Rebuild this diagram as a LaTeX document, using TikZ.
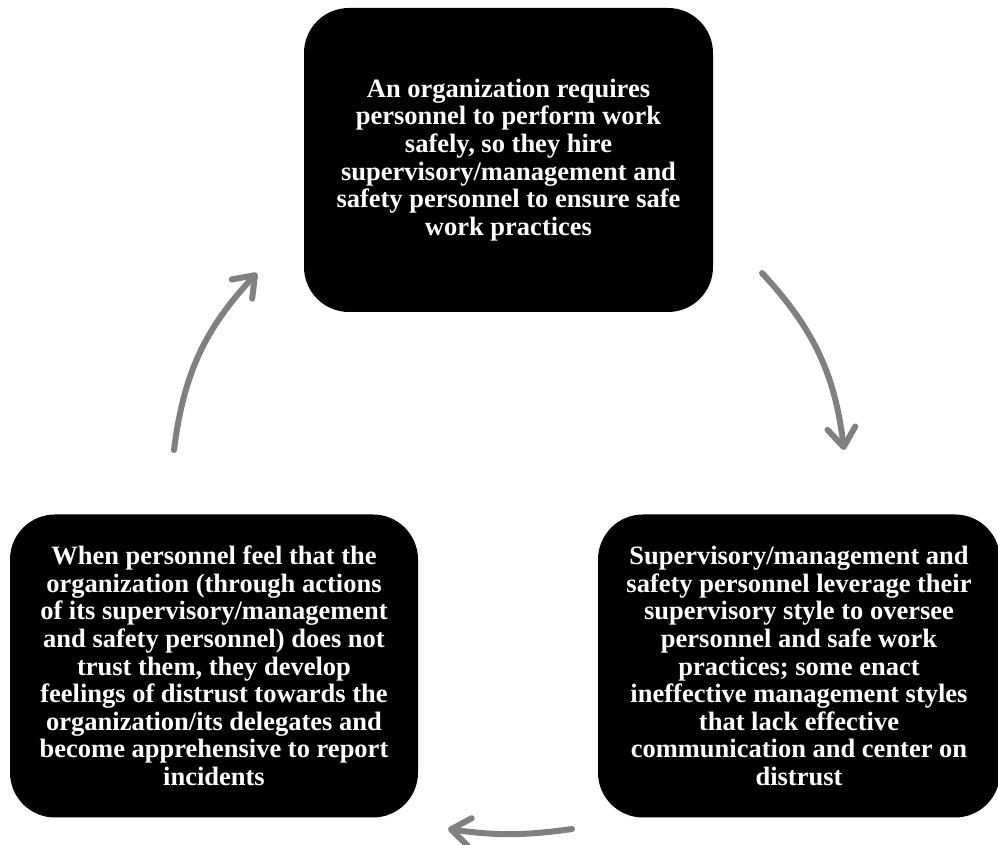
\documentclass[tikz,border=0pt]{standalone}
\usepackage{fontspec}
\setmainfont{Liberation Serif}
\usetikzlibrary{arrows.meta}
\definecolor{arrowgray}{HTML}{808080}
\tikzset{
  cyclebox/.style={rectangle, rounded corners=45pt, fill=black, text=white,
    font=\fontsize{26.5}{27.6}\selectfont\bfseries, align=center, inner sep=0pt},
  cyclearrow/.style={draw=arrowgray, line width=6pt, line cap=round,
    -{Straight Barb[length=19pt,width=28pt,line cap=round,line join=round]}}
}
\begin{document}
\begin{tikzpicture}[x=1pt,y=1pt]
\useasboundingbox (0,0) rectangle (998,845);
\node[cyclebox, minimum width=409pt, minimum height=304pt] (top) at (508.5,685)
  {An organization requires\\personnel to perform work\\safely, so they hire\\supervisory/management and\\safety personnel to ensure safe\\work practices};
\node[cyclebox, minimum width=408pt, minimum height=303pt] (left) at (214,179)
  {When personnel feel that the\\organization (through actions\\of its supervisory/management\\and safety personnel) does not\\trust them, they develop\\feelings of distrust towards the\\organization/its delegates and\\become apprehensive to report\\incidents};
\node[cyclebox, minimum width=402pt, minimum height=303pt] (right) at (799,179)
  {Supervisory/management and\\safety personnel leverage their\\supervisory style to oversee\\personnel and safe work\\practices; some enact\\ineffective management styles\\that lack effective\\communication and center on\\distrust};
\coordinate (a1s) at (174,395);
\coordinate (a1e) at (257,572);
\coordinate (a2s) at (762,572);
\coordinate (a2e) at (844,395);
\coordinate (a3s) at (572,16);
\coordinate (a3e) at (448,16);
\draw[cyclearrow] (a1s) to[bend left=18] (a1e);
\draw[cyclearrow] (a2s) to[bend left=18] (a2e);
\draw[cyclearrow] (a3s) to[bend left=8] (a3e);
\end{tikzpicture}
\end{document}
